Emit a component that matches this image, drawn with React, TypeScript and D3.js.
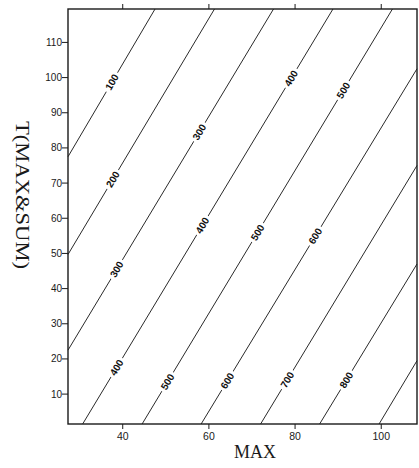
import React from "react";
import * as d3 from "d3";

// Contour levels and where each straight contour meets the plot frame (data units: MAX, T)
const levels = [100, 200, 300, 400, 500, 600, 700, 800, 900];
const startMax = [27.3, 27.3, 27.3, 30.7, 44.5, 58.2, 72.0, 85.7, 99.5];
const startT = [77.5, 49.7, 22.5, 1.5, 1.5, 1.5, 1.5, 1.5, 1.5];
const endMax = [47.5, 61.3, 75.0, 88.8, 102.6, 108.3, 108.3, 108.3, 108.3];
const endT = [119.5, 119.5, 119.5, 119.5, 119.5, 102.5, 75.0, 47.0, 19.5];

// Contour labels: level and MAX position along its contour
const labelLevels = [100, 200, 300, 300, 400, 400, 400, 500, 500, 500, 600, 600, 700, 800];
const labelMax = [37.5, 37.7, 57.8, 38.6, 38.6, 58.5, 79.1, 50.4, 71.3, 91.2, 64.3, 84.7, 78.2, 91.9];

const xTicks = [40, 60, 80, 100];
const yTicks = [10, 20, 30, 40, 50, 60, 70, 80, 90, 100, 110];
const xTitle = "MAX";
const yTitle = "T(MAX&SUM)";

const W = 419;
const H = 468;

export default function App() {
  const x = d3.scaleLinear().domain([27.3, 108.3]).range([68, 417]);
  const y = d3.scaleLinear().domain([1.5, 119.5]).range([424, 9]);
  const [x0, x1] = x.range();
  const [y0, y1] = y.range();
  const line = d3.line<[number, number]>().x((d) => x(d[0])).y((d) => y(d[1]));

  const ink = "#1a1a1a";

  return (
    <svg
      width={W}
      height={H}
      style={{ position: "absolute", left: 0, top: 0, background: "#fff" }}
    >
      <rect x={0} y={0} width={W} height={H} fill="#fff" />
      {/* contour lines */}
      {levels.map((lv, i) => (
        <path
          key={"c" + lv}
          d={line([
            [startMax[i], startT[i]],
            [endMax[i], endT[i]],
          ]) || ""}
          fill="none"
          stroke="#2a2a2a"
          strokeWidth={1}
        />
      ))}
      {/* contour labels */}
      {labelLevels.map((lv, k) => {
        const i = levels.indexOf(lv);
        const m = labelMax[k];
        const t = startT[i] + ((m - startMax[i]) / (endMax[i] - startMax[i])) * (endT[i] - startT[i]);
        const px = x(m);
        const py = y(t);
        const ang =
          (Math.atan2(y(endT[i]) - y(startT[i]), x(endMax[i]) - x(startMax[i])) * 180) / Math.PI;
        return (
          <g key={"l" + k} transform={`translate(${px},${py}) rotate(${ang})`}>
            <rect x={-11} y={-4} width={22} height={8} fill="#fff" />
            <text
              x={0}
              y={0}
              dy="0.35em"
              textAnchor="middle"
              fontFamily="Liberation Sans, Arial, sans-serif"
              fontWeight="bold"
              fontSize={10}
              fill="#111"
            >
              {lv}
            </text>
          </g>
        );
      })}
      {/* frame */}
      <rect x={x0} y={y1} width={x1 - x0} height={y0 - y1} fill="none" stroke={ink} strokeWidth={1.4} />
      {/* bottom ticks */}
      {xTicks.map((v) => (
        <g key={"xt" + v}>
          <line x1={x(v)} x2={x(v)} y1={y0} y2={y0 + 5} stroke={ink} strokeWidth={1} />
          <line x1={x(v)} x2={x(v)} y1={y1} y2={y1 - 5} stroke={ink} strokeWidth={1} />
          <text
            x={x(v)}
            y={y0 + 16}
            textAnchor="middle"
            fontFamily="Liberation Sans, Arial, sans-serif"
            fontSize={10.5}
            fill={ink}
          >
            {v}
          </text>
        </g>
      ))}
      {/* left ticks */}
      {yTicks.map((v) => (
        <g key={"yt" + v}>
          <line x1={x0 - 6} x2={x0} y1={y(v)} y2={y(v)} stroke={ink} strokeWidth={1} />
          <text
            x={x0 - 6}
            y={y(v)}
            dy="0.35em"
            textAnchor="end"
            fontFamily="Liberation Sans, Arial, sans-serif"
            fontSize={10}
            fill={ink}
          >
            {v}
          </text>
        </g>
      ))}
      {/* axis titles */}
      <text
        x={255}
        y={458}
        textAnchor="middle"
        fontFamily="Liberation Serif, Times New Roman, serif"
        fontSize={18}
        fill={ink}
      >
        {xTitle}
      </text>
      <text
        transform={`translate(16,195) rotate(90)`}
        textAnchor="middle"
        fontFamily="Liberation Serif, Times New Roman, serif"
        fontSize={18}
        textLength={148}
        lengthAdjust="spacingAndGlyphs"
        fill={ink}
      >
        {yTitle}
      </text>
    </svg>
  );
}
